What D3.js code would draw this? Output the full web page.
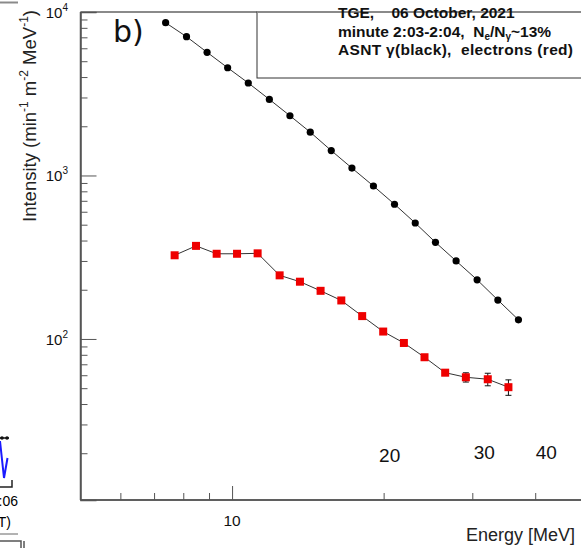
<!DOCTYPE html>
<html>
<head>
<meta charset="utf-8">
<script src="https://cdn.jsdelivr.net/npm/d3@7"></script>
<style>
body{margin:0;background:#fff;}
svg{display:block;font-family:"Liberation Sans",Arial,Helvetica,sans-serif;}
</style>
</head>
<body>
<svg></svg>
<script>
const W = 581;
const H = 548;

// data
const gammaEnergy = [7.38, 8.12, 8.92, 9.80, 10.77, 11.86, 13.03, 14.30, 15.74, 17.30, 19.09, 21.02, 23.11, 25.35, 27.86, 30.67, 33.72, 37.05];
const gammaIntensity = [8600, 7060, 5670, 4560, 3680, 2920, 2320, 1840, 1420, 1110, 862, 667, 512, 390, 300, 230, 173, 131];
const electronEnergy = [7.69, 8.48, 9.32, 10.23, 11.24, 12.43, 13.64, 14.99, 16.48, 18.13, 19.96, 21.94, 24.11, 26.50, 29.13, 32.20, 35.39];
const electronIntensity = [325, 371, 332, 332, 334, 245, 224, 197, 172, 138, 111, 94.5, 77.3, 62.2, 58.3, 56.7, 50.7];
const electronError = [4, 5, 4, 4, 4, 3.5, 3.5, 3, 3, 2.5, 2.5, 2.5, 2.5, 2.5, 3.8, 5, 5.5];

const yMajorTicks = [100, 1000, 10000];
const xMinorTicks = [6, 7, 8, 9, 20, 30, 40];
const xMajorTicks = [10];
const xInnerLabels = ['20', '30', '40'];
const xInnerLabelShift = [6, 12, 11]; // labels sit a bit right of their ticks

const NB = '\u00a0';
const legendLines = [
	'TGE,' + NB + NB + NB + ' 06 October, 2021',
	'minute 2:03-2:04,' + NB + ' ',
	'ASNT \u03b3(black),' + NB + ' electrons (red)'
];

// scales
const x = d3.scaleLog().domain([5, 50]).range([80.5, 584]);
const y = d3.scaleLog().domain([10.35, 10000]).range([500, 12]);

const svg = d3.select('svg').attr('width', W).attr('height', H);

// ---- fragments of the neighbouring panel (left edge) ----
const frag = svg.append('g');
frag.append('line').attr('x1', 0).attr('x2', 18).attr('y1', 2.5).attr('y2', 2.5)
	.attr('stroke', '#8a8a8a').attr('stroke-width', 2);
frag.append('path').attr('d', 'M0,441L4,478L7.5,458').attr('fill', 'none')
	.attr('stroke', '#1a1aff').attr('stroke-width', 2);
frag.append('path').attr('d', 'M0,438L9,438').attr('stroke', '#111').attr('stroke-width', 1.5);
frag.selectAll('circle.fd').data([2, 7]).enter().append('circle')
	.attr('cx', d => d).attr('cy', 438).attr('r', 1.8).attr('fill', '#111');
frag.append('path').attr('d', 'M0,487L12,487L12,480').attr('fill', 'none')
	.attr('stroke', '#222').attr('stroke-width', 1.5);
frag.append('text').attr('x', 18).attr('y', 506).attr('text-anchor', 'end')
	.attr('font-size', 14).text(':06');
frag.append('text').attr('x', 11).attr('y', 527).attr('text-anchor', 'end')
	.attr('font-size', 14).text('T)');
frag.append('line').attr('x1', 0).attr('x2', 18).attr('y1', 534).attr('y2', 534)
	.attr('stroke', '#666').attr('stroke-width', 1);
frag.append('path').attr('d', 'M0,541L21,541L21,548M24,541L24,548').attr('fill', 'none')
	.attr('stroke', '#555').attr('stroke-width', 1.5);

// ---- frame ----
const frameColor = '#555';
svg.append('line').attr('x1', x.range()[0]).attr('x2', W).attr('y1', 12).attr('y2', 12)
	.attr('stroke', '#8a8a8a').attr('stroke-width', 2);

// y axis (ticks pointing inside)
const yMinor = [];
for (const dec of [10, 100, 1000]) {
	for (let k = 2; k <= 9; k++) yMinor.push(dec * k);
}
const yAxisG = svg.append('g').attr('transform', `translate(${x.range()[0]},0)`);
yAxisG.call(d3.axisRight(y).tickValues(yMinor).tickSize(7).tickFormat(''));
yAxisG.append('g').call(d3.axisRight(y).tickValues(yMajorTicks).tickSize(16).tickFormat(''));
yAxisG.selectAll('path.domain').attr('stroke', frameColor).attr('stroke-width', 1.5);
yAxisG.selectAll('.tick line').attr('stroke', frameColor).attr('stroke-width', 1);
yAxisG.select('path.domain').attr('d', `M0,${y.range()[1]}V${y.range()[0]}`);

// x axis (ticks pointing up)
const xAxisG = svg.append('g').attr('transform', `translate(0,${y.range()[0]})`);
xAxisG.call(d3.axisTop(x).tickValues(xMinorTicks).tickSize(7).tickFormat(''));
xAxisG.append('g').call(d3.axisTop(x).tickValues(xMajorTicks).tickSize(14).tickFormat(''));
xAxisG.selectAll('path.domain').attr('d', `M${x.range()[0]},0H${W}`)
	.attr('stroke', frameColor).attr('stroke-width', 1.5);
xAxisG.selectAll('.tick line').attr('stroke', frameColor).attr('stroke-width', 1);

// y tick labels 10^n
const yLab = svg.append('g').selectAll('text').data(yMajorTicks).enter().append('text')
	.attr('x', 68).attr('y', d => y(d) + 6).attr('text-anchor', 'end')
	.attr('font-size', 15).attr('fill', '#111');
yLab.append('tspan').text('10');
yLab.append('tspan').attr('font-size', 10).attr('dy', -7).text(d => Math.round(Math.log10(d)));

// x tick labels
svg.append('g').selectAll('text').data(xMajorTicks).enter().append('text')
	.attr('x', d => x(d)).attr('y', 526).attr('text-anchor', 'middle')
	.attr('font-size', 15.5).attr('fill', '#111').text(d => d);
svg.append('g').selectAll('text').data(xInnerLabels).enter().append('text')
	.attr('x', (d, i) => x(+d) + xInnerLabelShift[i]).attr('y', (d, i) => i === 0 ? 462 : 459)
	.attr('text-anchor', 'middle').attr('font-size', 19).attr('fill', '#111').text(d => d);

// axis titles
svg.append('text').attr('x', 575).attr('y', 541).attr('text-anchor', 'end')
	.attr('font-size', 18).attr('fill', '#222').text('Energy [MeV]');
const yt = svg.append('text').attr('transform', 'translate(36,10) rotate(-90)')
	.attr('text-anchor', 'end').attr('font-size', 18.5).attr('fill', '#222');
yt.append('tspan').text('Intensity (min');
yt.append('tspan').attr('font-size', 12).attr('dy', -8).text('-1');
yt.append('tspan').attr('dy', 8).text(' m');
yt.append('tspan').attr('font-size', 12).attr('dy', -8).text('-2');
yt.append('tspan').attr('dy', 8).text(' MeV');
yt.append('tspan').attr('font-size', 12).attr('dy', -8).text('-1');
yt.append('tspan').attr('dy', 8).text(')');

// panel letter
svg.append('text').attr('x', 113).attr('y', 42).attr('font-size', 30)
	.attr('font-family', '"DejaVu Sans", sans-serif').attr('fill', '#111').text('b)');

// legend box
svg.append('rect').attr('x', 257).attr('y', 12).attr('width', 340).attr('height', 66)
	.attr('fill', '#fff').attr('stroke', '#333').attr('stroke-width', 1);
svg.append('line').attr('x1', 257).attr('x2', W).attr('y1', 12).attr('y2', 12)
	.attr('stroke', '#8a8a8a').attr('stroke-width', 2);
const leg = svg.append('g').attr('font-size', 15.5).attr('font-weight', 'bold').attr('fill', '#111');
leg.append('text').attr('x', 338).attr('y', 18).text(legendLines[0]);
const l2 = leg.append('text').attr('x', 338).attr('y', 36.5);
l2.append('tspan').text(legendLines[1] + 'N');
l2.append('tspan').attr('font-size', 10).attr('dy', 3).text('e');
l2.append('tspan').attr('dy', -3).text('/N');
l2.append('tspan').attr('font-size', 10).attr('dy', 3).text('\u03b3');
l2.append('tspan').attr('dy', -3).text('~13%');
leg.append('text').attr('x', 338).attr('y', 55).attr('textLength', 235)
	.attr('lengthAdjust', 'spacing').text(legendLines[2]);

// ---- series ----
const gamma = gammaEnergy.map((e, i) => ({e: e, v: gammaIntensity[i]}));
const electrons = electronEnergy.map((e, i) => ({e: e, v: electronIntensity[i], err: electronError[i]}));

const line = d3.line().x(d => x(d.e)).y(d => y(d.v));

svg.append('path').datum(gamma).attr('d', line).attr('fill', 'none')
	.attr('stroke', '#333').attr('stroke-width', 1);
svg.append('path').datum(electrons).attr('d', line).attr('fill', 'none')
	.attr('stroke', '#333').attr('stroke-width', 1);

// error bars
const eb = svg.append('g').attr('stroke', '#111').attr('stroke-width', 1);
eb.selectAll('line.v').data(electrons).enter().append('line')
	.attr('x1', d => x(d.e)).attr('x2', d => x(d.e))
	.attr('y1', d => y(d.v + d.err)).attr('y2', d => y(d.v - d.err));
eb.selectAll('line.t').data(electrons).enter().append('line')
	.attr('x1', d => x(d.e) - 3).attr('x2', d => x(d.e) + 3)
	.attr('y1', d => y(d.v + d.err)).attr('y2', d => y(d.v + d.err));
eb.selectAll('line.b').data(electrons).enter().append('line')
	.attr('x1', d => x(d.e) - 3).attr('x2', d => x(d.e) + 3)
	.attr('y1', d => y(d.v - d.err)).attr('y2', d => y(d.v - d.err));

svg.append('g').selectAll('circle').data(gamma).enter().append('circle')
	.attr('cx', d => x(d.e)).attr('cy', d => y(d.v)).attr('r', 3.6).attr('fill', '#000');

const sq = 8;
svg.append('g').selectAll('rect').data(electrons).enter().append('rect')
	.attr('x', d => x(d.e) - sq / 2).attr('y', d => y(d.v) - sq / 2)
	.attr('width', sq).attr('height', sq).attr('fill', '#ee0000');
</script>
</body>
</html>
